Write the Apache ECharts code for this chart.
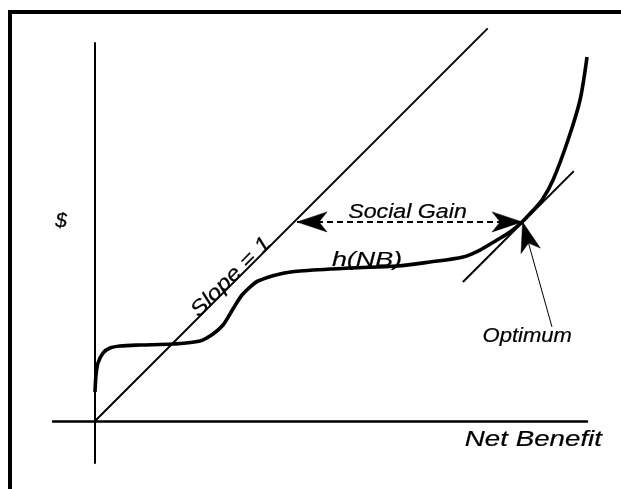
<!DOCTYPE html>
<html>
<head>
<meta charset="utf-8">
<script src="https://cdn.jsdelivr.net/npm/echarts@6/dist/echarts.min.js"></script>
<style>html,body{margin:0;padding:0;background:#fff;}#c{width:621px;height:489px;}</style>
</head>
<body>
<div id="c"></div>
<script>
// ---- data (conceptual units) ----
var slopeLine = [[0, 0], [9.35, 9.35]];
var hCurve = [
  [0, 0.69], [0.024, 1.095], [0.071, 1.381], [0.19, 1.619], [0.357, 1.738],
  [0.595, 1.786], [1.071, 1.81], [1.857, 1.833], [2.5, 1.905], [2.81, 2.071],
  [3.048, 2.286], [3.214, 2.548], [3.357, 2.786], [3.5, 3.0], [3.69, 3.19],
  [3.881, 3.333], [4.405, 3.5], [4.881, 3.571], [6.071, 3.643], [7.19, 3.69],
  [7.976, 3.786], [8.762, 3.905], [9.167, 4.071], [9.571, 4.31], [9.881, 4.5],
  [10.167, 4.738], [10.405, 4.988], [10.643, 5.262], [10.905, 5.738],
  [11.262, 6.69], [11.548, 7.643], [11.714, 8.667]
];
var tangentLine = [[8.76, 3.31], [11.40, 5.95]];
var socialGain = [[4.81, 4.74], [10.17, 4.74]];
var optimumPointer = [[10.88, 2.24], [10.18, 4.74]];
// arrowheads: [tipX, tipY, fromX, fromY]
var arrowHeads = [
  [4.81, 4.74, 10.17, 4.74],
  [10.17, 4.74, 4.81, 4.74],
  [10.18, 4.74, 10.88, 2.24]
];
var labelTexts = ['Net Benefit', '$', 'Social Gain', 'h(NB)', 'Optimum', 'Slope = 1'];
var labelAnchors = [[12.07, -0.595], [-0.81, 4.762], [7.44, 4.83], [6.476, 3.667], [10.29, 1.857], [3.33, 3.33]];

// ---- styles for labels (kept out of data) ----
var labelStyles = [
  {size: 22, sx: 1.26, align: 'right', vAlign: 'bottom', rot: 0, dy: 4.5},
  {size: 21, sx: 1.0, align: 'center', vAlign: 'middle', rot: 0, dy: 0},
  {size: 20, sx: 1.16, align: 'center', vAlign: 'bottom', rot: 0, dy: 4},
  {size: 21, sx: 1.28, align: 'center', vAlign: 'bottom', rot: 0, dy: 4},
  {size: 19.5, sx: 1.13, align: 'center', vAlign: 'bottom', rot: 0, dy: 4},
  {size: 21, sx: 1.16, align: 'center', vAlign: 'bottom', rot: Math.PI / 4, dy: 5}
];

var chart = echarts.init(document.getElementById('c'), null, {renderer: 'canvas'});

function lineSeries(data, width, type, smooth) {
  return {
    type: 'line', data: data, symbol: 'none', smooth: smooth || false,
    silent: true, animation: false, clip: false, z: 3,
    lineStyle: {color: '#000', width: width, type: type || 'solid'}
  };
}

var option = {
  backgroundColor: '#fff',
  animation: false,
  grid: {left: 53, top: 43, width: 534, height: 420, containLabel: false},
  xAxis: {
    type: 'value', min: -1, max: 11.714,
    axisLine: {show: true, onZero: true, lineStyle: {color: '#000', width: 2.5}},
    axisTick: {show: false}, axisLabel: {show: false}, splitLine: {show: false}
  },
  yAxis: {
    type: 'value', min: -1, max: 9,
    axisLine: {show: true, onZero: true, lineStyle: {color: '#000', width: 2}},
    axisTick: {show: false}, axisLabel: {show: false}, splitLine: {show: false}
  },
  graphic: [{
    type: 'polyline', silent: true,
    shape: {points: [[10, 489], [10, 12], [621, 12]]},
    style: {stroke: '#000', lineWidth: 4, fill: null}
  }],
  series: [
    lineSeries(slopeLine, 1.9),
    lineSeries(tangentLine, 2),
    lineSeries(socialGain, 2, [6, 4]),
    lineSeries(optimumPointer, 1),
    lineSeries(hCurve, 3.6, 'solid', 0.3),
    {
      type: 'custom', coordinateSystem: 'cartesian2d', data: arrowHeads,
      silent: true, animation: false, z: 5,
      renderItem: function (params, api) {
        var tip = api.coord([api.value(0), api.value(1)]);
        var from = api.coord([api.value(2), api.value(3)]);
        var dx = tip[0] - from[0], dy = tip[1] - from[1];
        var len = Math.sqrt(dx * dx + dy * dy);
        var ux = dx / len, uy = dy / len;
        var L = 30, W = 10, N = 22;
        var bx = tip[0] - L * ux, by = tip[1] - L * uy;
        var nx = tip[0] - N * ux, ny = tip[1] - N * uy;
        var px = -uy, py = ux;
        return {
          type: 'polygon',
          shape: {points: [tip, [bx + W * px, by + W * py], [nx, ny], [bx - W * px, by - W * py]]},
          style: {fill: '#000', stroke: '#000', lineWidth: 0.5}
        };
      }
    },
    {
      type: 'custom', coordinateSystem: 'cartesian2d', data: labelAnchors,
      silent: true, animation: false, z: 6,
      renderItem: function (params, api) {
        var i = params.dataIndex;
        var s = labelStyles[i];
        var p = api.coord([api.value(0), api.value(1)]);
        return {
          type: 'text', x: p[0], y: p[1], rotation: s.rot, scaleX: s.sx, scaleY: 1,
          style: {
            x: 0, y: s.dy,
            text: labelTexts[i],
            fill: '#000',
            stroke: '#000',
            lineWidth: 0.2,
            font: 'italic ' + s.size + 'px "Liberation Sans", Arial, sans-serif',
            align: s.align, verticalAlign: s.vAlign
          }
        };
      }
    }
  ]
};
chart.setOption(option);
</script>
</body>
</html>
